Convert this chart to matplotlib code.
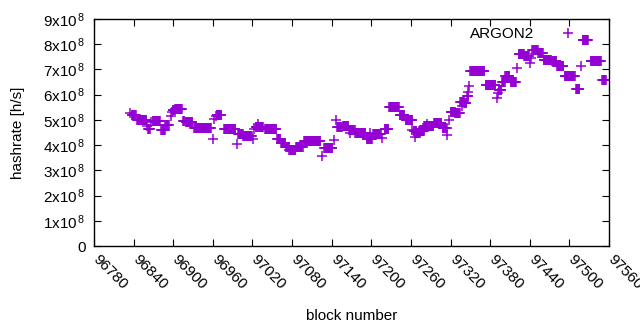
import numpy as np
import matplotlib
matplotlib.use("Agg")
import matplotlib.pyplot as plt
import matplotlib.transforms as mtransforms
from matplotlib.ticker import FixedLocator

plt.rcParams['font.family'] = ['Liberation Sans', 'DejaVu Sans']
plt.rcParams['mathtext.fontset'] = 'custom'
plt.rcParams['mathtext.rm'] = 'Liberation Sans'
plt.rcParams['mathtext.it'] = 'Liberation Sans'
plt.rcParams['mathtext.default'] = 'regular'

# runs of blocks sharing a hashrate value (value in units of 1e8 h/s)
run_start = [96835, 96837, 96845, 96860, 96862, 96867, 96869, 96882, 96888, 96896,
             96898, 96899, 96903, 96915, 96919, 96932, 96960, 96962, 96965, 96966,
             96977, 96996, 96998, 97006, 97021, 97023, 97025, 97028, 97039, 97057,
             97063, 97071, 97076, 97086, 97098, 97125, 97129, 97143, 97146, 97148,
             97157, 97166, 97168, 97176, 97193, 97198, 97203, 97216, 97220, 97227,
             97243, 97252, 97261, 97264, 97266, 97268, 97272, 97280, 97284, 97295,
             97308, 97315, 97318, 97320, 97327, 97335, 97338, 97341, 97345, 97346,
             97348, 97350, 97373, 97390, 97392, 97393, 97398, 97403, 97411, 97421,
             97423, 97432, 97441, 97442, 97444, 97453, 97461, 97474, 97481, 97493,
             97510, 97517, 97520, 97532, 97550]
run_end = [96835, 96843, 96859, 96860, 96865, 96867, 96880, 96887, 96893, 96896,
           96898, 96902, 96913, 96917, 96929, 96957, 96960, 96962, 96965, 96973,
           96994, 96996, 97005, 97019, 97021, 97023, 97036, 97028, 97056, 97062,
           97070, 97075, 97085, 97096, 97123, 97125, 97141, 97143, 97146, 97155,
           97165, 97175, 97168, 97191, 97201, 97198, 97214, 97216, 97226, 97242,
           97250, 97262, 97261, 97268, 97266, 97273, 97280, 97294, 97284, 97306,
           97314, 97315, 97318, 97326, 97334, 97340, 97338, 97344, 97347, 97346,
           97348, 97371, 97388, 97390, 97392, 97397, 97402, 97409, 97419, 97421,
           97431, 97439, 97441, 97442, 97452, 97460, 97472, 97480, 97491, 97508,
           97515, 97517, 97528, 97548, 97555]
run_value = [5.26, 5.18, 4.98, 4.74, 4.62, 4.90, 4.97, 4.60, 4.78, 5.15,
             5.32, 5.38, 5.45, 4.97, 4.90, 4.66, 4.23, 5.02, 5.14, 5.21,
             4.63, 4.03, 4.44, 4.38, 4.23, 4.64, 4.70, 4.83, 4.63, 4.23,
             4.07, 3.94, 3.82, 3.93, 4.16, 3.57, 3.89, 4.20, 5.00, 4.72,
             4.76, 4.61, 4.47, 4.50, 4.25, 4.47, 4.45, 4.27, 4.63, 5.52,
             5.18, 4.98, 4.60, 4.57, 4.33, 4.48, 4.56, 4.76, 4.84, 4.89,
             4.67, 4.40, 5.00, 5.33, 5.26, 5.70, 5.55, 5.65, 5.95, 6.10,
             6.36, 6.93, 6.40, 5.86, 6.05, 6.20, 6.52, 6.73, 6.49, 7.05,
             7.63, 7.55, 7.27, 7.44, 7.77, 7.64, 7.37, 7.33, 7.13, 6.75,
             6.24, 7.14, 8.15, 7.34, 6.58]

series_label = "ARGON2"
x_ticks = list(range(96780, 97561, 60))
y_ticks = [0, 1e8, 2e8, 3e8, 4e8, 5e8, 6e8, 7e8, 8e8, 9e8]
y_tick_labels = ['0'] + [r'%dx10$^{\,8}$' % k for k in range(1, 10)]

blocks = np.concatenate([np.arange(s, e + 1) for s, e in zip(run_start, run_end)])
hashrate = np.concatenate([np.full(e - s + 1, v * 1e8)
                           for s, e, v in zip(run_start, run_end, run_value)])

fig = plt.figure(figsize=(6.4, 3.3), dpi=100)
ax = fig.add_axes([94 / 640, 1 - 246 / 330, (609 - 94) / 640, (246 - 19) / 330])

color = '#9400D3'
ax.plot(blocks, hashrate, linestyle='none', marker='+', markersize=6.5,
        markeredgewidth=1.1, color=color, label=series_label)

ax.set_xlim(96780, 97560)
ax.set_ylim(0, 9e8)
ax.xaxis.set_major_locator(FixedLocator(x_ticks))
ax.yaxis.set_major_locator(FixedLocator(y_ticks))
ax.set_yticklabels(y_tick_labels)
ax.set_xticklabels([str(t) for t in x_ticks], rotation=-45, ha='left', va='top',
                   rotation_mode='anchor')
ax.tick_params(direction='in', length=5, width=0.8, top=True, right=True,
               labelsize=11, colors='black')
ax.tick_params(axis='y', pad=6)
ax.tick_params(axis='x', pad=6)
offset = mtransforms.ScaledTranslation(6 / 100, 2 / 100, fig.dpi_scale_trans)
for lab in ax.get_xticklabels():
    lab.set_transform(lab.get_transform() + offset)
for sp in ax.spines.values():
    sp.set_linewidth(1.0)

ax.set_xlabel('block number', fontsize=11, labelpad=12)
ax.set_ylabel('hashrate [h/s]', fontsize=11, labelpad=13)

leg = ax.legend(loc='upper right', bbox_to_anchor=(0.97, 1.012), frameon=False,
                markerfirst=False, fontsize=11, handlelength=2.0, handletextpad=1.2,
                borderaxespad=0.3)

fig.savefig('out.png', dpi=100)
